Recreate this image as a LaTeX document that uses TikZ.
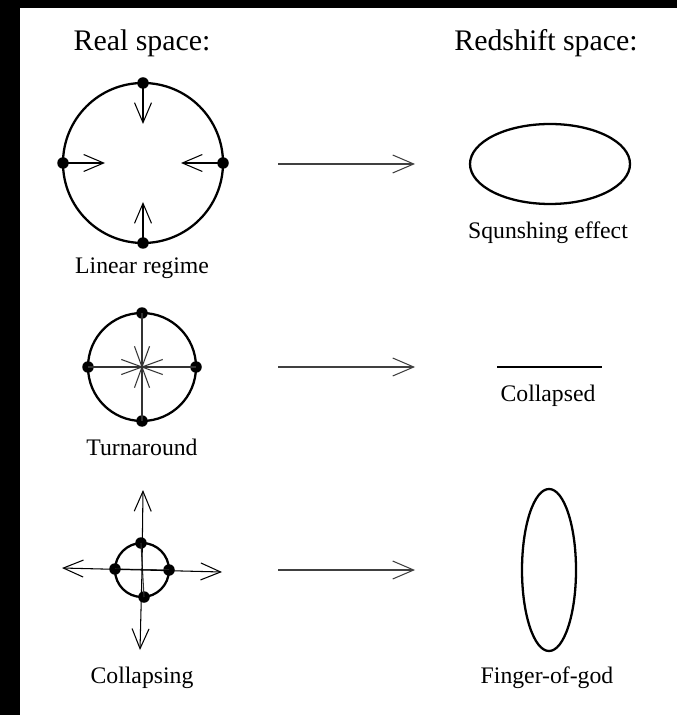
\documentclass[tikz,border=0pt]{standalone}
\usepackage{fontspec}
\setmainfont{Liberation Serif}
\usetikzlibrary{arrows.meta}
\begin{document}
\begin{tikzpicture}[x=0.02cm,y=-0.02cm,
  title/.style={inner sep=0pt,font=\fontsize{17}{20}\selectfont},
  lab/.style={inner sep=0pt,font=\fontsize{13.5}{16}\selectfont},
  shell/.style={line width=1.3pt},
  pt/.style={circle,fill=black,inner sep=0pt,minimum size=0.23cm},
  vel/.style={line width=0.6pt,-{Straight Barb[length=0.4cm,width=0.34cm,line width=0.6pt]}},
  maparrow/.style={line width=0.6pt,black!75,-{Straight Barb[length=0.42cm,width=0.36cm,line width=0.6pt]}},
  spoke/.style={line width=0.6pt,black!80}]
\useasboundingbox (0,0) rectangle (677,715);
\fill[black] (0,0) rectangle (677,715);
\fill[white] (20,8) rectangle (677,715);

% titles
\node[title] (realt) at (142,43) {Real space:};
\node[title] (redt) at (546,43) {Redshift space:};

% ---- Row 1: linear regime
\draw[shell] (143,163) circle[radius=80];
\node[pt] (l1) at (63,163) {};
\node[pt] (r1) at (223,163) {};
\node[pt] (t1) at (143,83) {};
\node[pt] (b1) at (143,243) {};
\coordinate (l1e) at (105,163);
\coordinate (r1e) at (181,163);
\coordinate (t1e) at (143,124);
\coordinate (b1e) at (143,202);
\draw[vel] (l1.center) -- (l1e);
\draw[vel] (r1.center) -- (r1e);
\draw[vel] (t1.center) -- (t1e);
\draw[vel] (b1.center) -- (b1e);
\node[lab] (lin) at (142,268) {Linear regime};

\draw[shell] (550,164) ellipse[x radius=80,y radius=40];
\node[lab] (squ) at (548,233) {Squnshing effect};

\coordinate (a1s) at (278,164);
\coordinate (a1e) at (415,164);
\draw[maparrow] (a1s) -- (a1e);

% ---- Row 2: turnaround
\draw[shell] (142,367) circle[radius=54];
\node[pt] (l2) at (88,367) {};
\node[pt] (r2) at (196,367) {};
\node[pt] (t2) at (142,313) {};
\node[pt] (b2) at (142,421) {};
\draw[spoke] (l2.center) -- (r2.center);
\draw[spoke] (t2.center) -- (b2.center);
\coordinate (c2) at (142,367);
\foreach \a in {20,70,110,160,200,250,290,340}
  \draw[spoke] (c2) -- ++({22*cos(\a)},{22*sin(\a)});
\node[lab] (turn) at (142,447) {Turnaround};

\coordinate (cl) at (497,367);
\coordinate (cr) at (602,367);
\draw[line width=1.4pt] (cl) -- (cr);
\node[lab] (coll) at (548,396) {Collapsed};

\coordinate (a2s) at (278,367);
\coordinate (a2e) at (415,367);
\draw[maparrow] (a2s) -- (a2e);

% ---- Row 3: collapsing
\draw[shell] (142,570) circle[radius=27];
\node[pt] (l3) at (115,569) {};
\node[pt] (r3) at (169,570) {};
\node[pt] (t3) at (141,543) {};
\node[pt] (b3) at (144,597) {};
\coordinate (c3) at (142,570);
\coordinate (l3e) at (62,568);
\coordinate (r3e) at (222,572);
\coordinate (t3e) at (143,490);
\coordinate (b3e) at (140,650);
\draw[spoke] (l3.center) -- (r3.center);
\draw[spoke] (t3.center) -- (b3.center);
\draw[vel] (c3) -- (l3e);
\draw[vel] (c3) -- (r3e);
\draw[vel] (c3) -- (t3e);
\draw[vel] (c3) -- (b3e);
\node[lab] (colg) at (142,678) {Collapsing};

\draw[shell] (549,570) ellipse[x radius=27,y radius=81];
\node[lab] (fog) at (547,678) {Finger-of-god};

\coordinate (a3s) at (278,570);
\coordinate (a3e) at (415,570);
\draw[maparrow] (a3s) -- (a3e);
\end{tikzpicture}
\end{document}
